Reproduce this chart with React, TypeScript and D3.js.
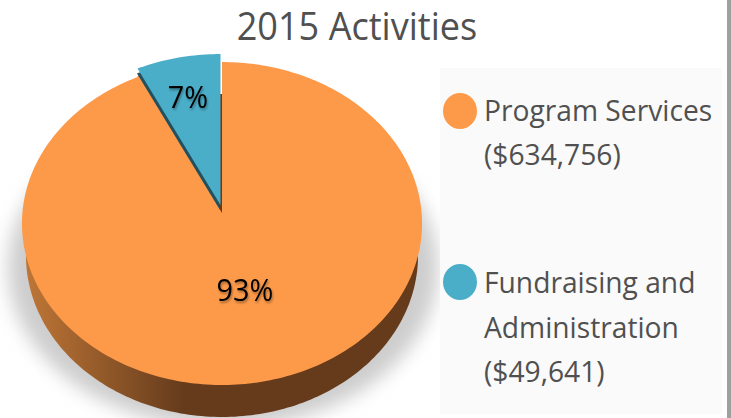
import React from 'react';
import * as d3 from 'd3';

const categories = ['Program Services', 'Fundraising and Administration'];
const amounts = [634756, 49641];
const legendLines = [['Program Services', '($634,756)'], ['Fundraising and', 'Administration', '($49,641)']];
const colors = ['#FD9A4A', '#4BAEC9'];
const title = '2015 Activities';

const font = '"Open Sans", sans-serif';
const cx = 222;
const cy = 213;
const rx = 199.6;
const ry = 160.8;
const tilt = 0.065;
const depth = 32;

// the pie is drawn with a bit of perspective, so the centre sits above the middle of the ellipse
function project(a: number, r = 1): [number, number] {
  const s = Math.sin(a) * r;
  const c = Math.cos(a) * r;
  const w = 1 + tilt * c;
  return [cx + (rx * s) / w, cy - (ry * c) / w];
}

const line = d3.line<[number, number]>();

function slicePath(start: number, end: number) {
  const steps = Math.ceil((end - start) / 0.02);
  const rim = d3.range(steps + 1).map((i) => project(start + ((end - start) * i) / steps));
  return line([[cx, cy], ...rim]) + 'Z';
}

export default function App() {
  const slices = d3.pie<number>().sort(null)(amounts);
  const color = d3.scaleOrdinal<string, string>().domain(categories).range(colors);
  const pct = d3.format('.0%');
  const total = d3.sum(amounts);

  const rimAll = d3.range(0, 2 * Math.PI, 0.02).map((a) => project(a));
  const lower = rimAll.map(([x, y]) => [cx + (x - cx) * 0.98, y + depth] as [number, number]);

  // 7% slice is pulled out of the pie
  const labelPos = [[245, 301], [188, 108]];

  return (
    <svg
      width={731}
      height={418}
      style={{ position: 'absolute', left: 0, top: 0, display: 'block', background: '#fff' }}
    >
      <defs>
        <filter id="blur" x="-20%" y="-20%" width="140%" height="140%">
          <feGaussianBlur stdDeviation="9" />
        </filter>
        <filter id="txt" x="-20%" y="-20%" width="140%" height="140%">
          <feDropShadow dx="1" dy="2" stdDeviation="1.2" floodColor="#000" floodOpacity="0.35" />
        </filter>
        <linearGradient id="side" x1="28" x2="418" y1="0" y2="0" gradientUnits="userSpaceOnUse">
          <stop offset="0" stopColor="#BD7536" />
          <stop offset="0.4" stopColor="#653B1C" />
          <stop offset="1" stopColor="#653B1C" />
        </linearGradient>
      </defs>

      <ellipse cx={223} cy={268} rx={215} ry={160} fill="#cdcdcd" filter="url(#blur)" />
      <rect x={440} y={68} width={282} height={346} fill="#FAFAFA" />
      <rect x={727} y={0} width={4} height={418} fill="#A0A0A0" />

      <path d={line(lower) + 'Z'} fill="url(#side)" />

      {slices.map((d, i) => {
        const pulled = i === 1;
        const shift = pulled ? 2 * Math.PI : 0;
        const path = slicePath(d.startAngle - shift, d.endAngle - shift);
        return (
          <g key={categories[i]} transform={pulled ? 'translate(-1.5,-8)' : undefined}>
            {pulled && (
              <>
                <path d={path} transform="translate(-0.5,8)" fill={colors[0]} />
                <path d={path} transform="translate(-0.5,5)" fill="#23505F" />
              </>
            )}
            <path d={path} fill={color(categories[i])} />
          </g>
        );
      })}

      {slices.map((d, i) => (
        <text
          key={i}
          transform={`translate(${labelPos[i][0]},${labelPos[i][1]}) scale(0.93,1)`}
          textAnchor="middle"
          fontFamily={font}
          fontSize={31}
          fill="#000"
          filter="url(#txt)"
        >
          {pct(d.value / total)}
        </text>
      ))}

      <text
        transform="translate(357,40) scale(0.95,1)"
        textAnchor="middle"
        fontFamily={font}
        fontSize={38}
        fill="#505050"
      >
        {title}
      </text>

      <ellipse cx={460} cy={111} rx={17} ry={18} fill={colors[0]} />
      <ellipse cx={460} cy={282} rx={17} ry={18} fill={colors[1]} />
      {[[121, 165], [293, 338, 382]].map((ys, g) =>
        ys.map((y, j) => (
          <text
            key={`${g}-${j}`}
            transform={`translate(484,${y}) scale(0.94,1)`}
            fontFamily={font}
            fontSize={30}
            fill="#505050"
          >
            {legendLines[g][j]}
          </text>
        ))
      )}
    </svg>
  );
}
